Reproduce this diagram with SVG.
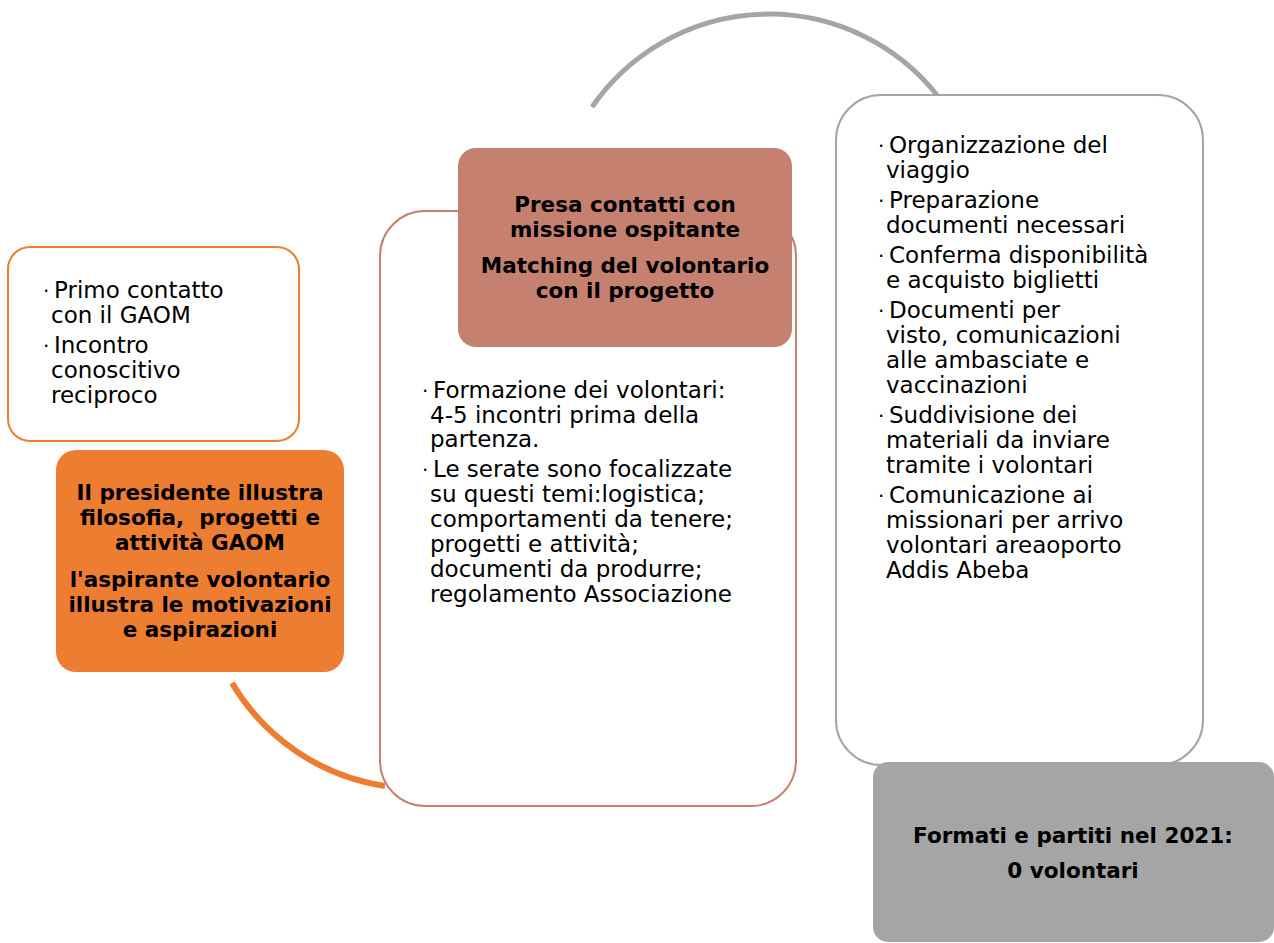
<svg xmlns="http://www.w3.org/2000/svg" width="1274" height="943" viewBox="0 0 1274 943">
<style>
.t{font-family:"DejaVu Sans","Verdana",sans-serif;font-size:23px;fill:#000}
.d{font-family:"DejaVu Sans","Verdana",sans-serif;font-size:20px;fill:#000}
.b{font-family:"DejaVu Sans","Verdana",sans-serif;font-size:21.5px;font-weight:bold;fill:#000;text-anchor:middle}
</style>
<rect width="1274" height="943" fill="#fff"/>
<g id="connectors" fill="none">
<path d="M232,683 A215,215 0 0 0 385,786" stroke="#ED7D31" stroke-width="6"/>
<path d="M592,107 A215,215 0 0 1 937,95" stroke="#A5A5A5" stroke-width="5"/>
</g>
<g id="node1">
<rect x="8" y="247" width="291" height="194" rx="22" fill="#fff" stroke="#ED7D31" stroke-width="2"/>
<text class="d" x="43" y="298">·</text><text class="t" x="54" y="298">Primo contatto</text>
<text class="t" x="51" y="323">con il GAOM</text>
<text class="d" x="43" y="353">·</text><text class="t" x="54" y="353">Incontro</text>
<text class="t" x="51" y="378">conoscitivo</text>
<text class="t" x="51" y="403">reciproco</text>
</g>
<g id="node2">
<rect x="56" y="450" width="288" height="222" rx="20" fill="#ED7D31"/>
<text class="b" x="200" y="500">Il presidente illustra</text>
<text class="b" x="200" y="525" xml:space="preserve">filosofia,  progetti e</text>
<text class="b" x="200" y="550">attività GAOM</text>
<text class="b" x="200" y="587">l'aspirante volontario</text>
<text class="b" x="200" y="612">illustra le motivazioni</text>
<text class="b" x="200" y="637">e aspirazioni</text>
</g>
<g id="node3">
<rect x="380" y="211" width="416" height="595" rx="45" fill="#fff" stroke="#C5806F" stroke-width="2"/>
<text class="d" x="422" y="398">·</text><text class="t" x="433" y="398">Formazione dei volontari:</text>
<text class="t" x="430" y="423">4-5 incontri prima della</text>
<text class="t" x="430" y="447">partenza.</text>
<text class="d" x="422" y="477">·</text><text class="t" x="433" y="477">Le serate sono focalizzate</text>
<text class="t" x="430" y="502">su questi temi:logistica;</text>
<text class="t" x="430" y="527">comportamenti da tenere;</text>
<text class="t" x="430" y="552">progetti e attività;</text>
<text class="t" x="430" y="577">documenti da produrre;</text>
<text class="t" x="430" y="602">regolamento Associazione</text>
</g>
<g id="node4">
<rect x="458" y="148" width="334" height="199" rx="18" fill="#C5806F"/>
<text class="b" x="625" y="212">Presa contatti con</text>
<text class="b" x="625" y="237">missione ospitante</text>
<text class="b" x="625" y="273">Matching del volontario</text>
<text class="b" x="625" y="298">con il progetto</text>
</g>
<g id="node5">
<rect x="836" y="95" width="367" height="670" rx="45" fill="#fff" stroke="#A5A5A5" stroke-width="2"/>
<text class="d" x="878" y="153">·</text><text class="t" x="889" y="153">Organizzazione del</text>
<text class="t" x="886" y="178">viaggio</text>
<text class="d" x="878" y="208">·</text><text class="t" x="889" y="208">Preparazione</text>
<text class="t" x="886" y="233">documenti necessari</text>
<text class="d" x="878" y="263">·</text><text class="t" x="889" y="263">Conferma disponibilità</text>
<text class="t" x="886" y="288">e acquisto biglietti</text>
<text class="d" x="878" y="318">·</text><text class="t" x="889" y="318">Documenti per</text>
<text class="t" x="886" y="343">visto, comunicazioni</text>
<text class="t" x="886" y="368">alle ambasciate e</text>
<text class="t" x="886" y="393">vaccinazioni</text>
<text class="d" x="878" y="423">·</text><text class="t" x="889" y="423">Suddivisione dei</text>
<text class="t" x="886" y="448">materiali da inviare</text>
<text class="t" x="886" y="473">tramite i volontari</text>
<text class="d" x="878" y="503">·</text><text class="t" x="889" y="503">Comunicazione ai</text>
<text class="t" x="886" y="528">missionari per arrivo</text>
<text class="t" x="886" y="553">volontari areaoporto</text>
<text class="t" x="886" y="578">Addis Abeba</text>
</g>
<g id="node6">
<rect x="873" y="762" width="401" height="180" rx="15" fill="#A5A5A5"/>
<text class="b" x="1073" y="843">Formati e partiti nel 2021:</text>
<text class="b" x="1073" y="878">0 volontari</text>
</g>
</svg>
